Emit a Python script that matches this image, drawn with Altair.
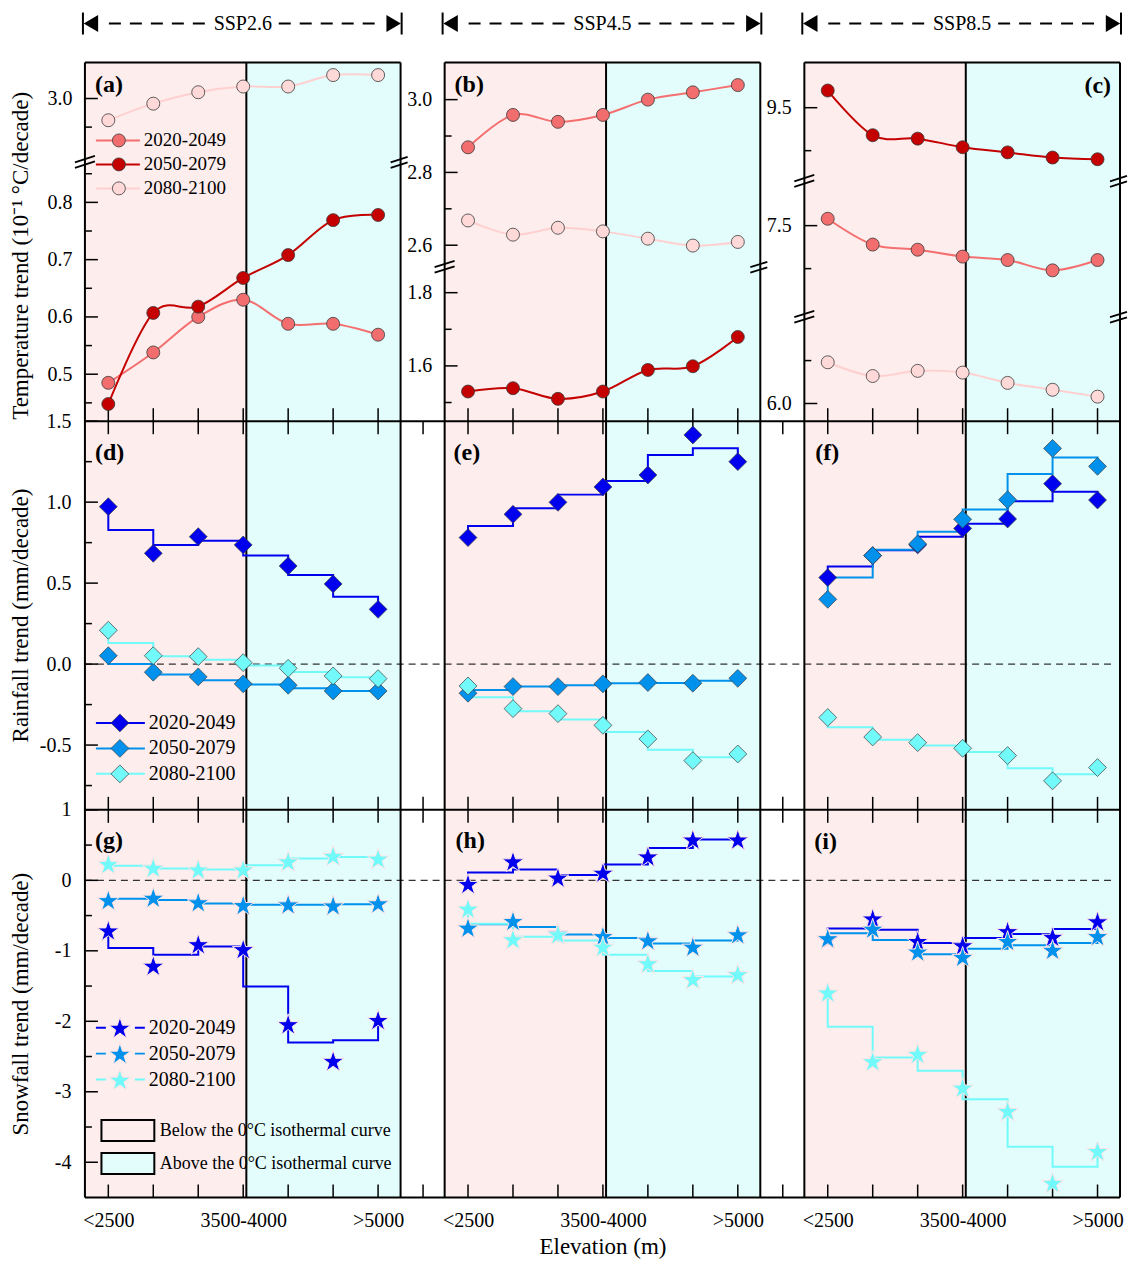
import math
import altair as alt
import pandas as pd

FONT = "Liberation Serif"

# ---------------- data ----------------
periods = ["2020-2049", "2050-2079", "2080-2100"]
scenarios = ["SSP2.6", "SSP4.5", "SSP8.5"]
elevation_bins = ["<2500", "2500-3000", "3000-3500", "3500-4000", "4000-4500", "4500-5000", ">5000"]
labelled_bins = [0, 3, 6]
zone_labels = ["Below the 0\u00b0C isothermal curve", "Above the 0\u00b0C isothermal curve"]
positions = list(range(len(elevation_bins)))

# Temperature trend (10^-1 degC/decade)
temp_ssp26_2020 = [0.485, 0.538, 0.600, 0.630, 0.588, 0.588, 0.569]
temp_ssp26_2050 = [0.448, 0.607, 0.618, 0.668, 0.708, 0.769, 0.778]
temp_ssp26_2080 = [2.962, 2.991, 3.011, 3.021, 3.021, 3.041, 3.041]
temp_ssp45_2020 = [2.869, 2.958, 2.939, 2.958, 3.000, 3.020, 3.040]
temp_ssp45_2050 = [1.530, 1.539, 1.510, 1.530, 1.589, 1.599, 1.679]
temp_ssp45_2080 = [2.668, 2.629, 2.648, 2.638, 2.618, 2.599, 2.609]
temp_ssp85_2020 = [7.54, 7.39, 7.36, 7.32, 7.30, 7.24, 7.30]
temp_ssp85_2050 = [9.60, 9.34, 9.32, 9.27, 9.24, 9.21, 9.20]
temp_ssp85_2080 = [6.24, 6.16, 6.19, 6.18, 6.12, 6.08, 6.04]

# Rainfall trend (mm/decade)
rain_ssp26_2020 = [0.972, 0.684, 0.787, 0.736, 0.606, 0.495, 0.338]
rain_ssp26_2050 = [0.052, -0.050, -0.079, -0.122, -0.131, -0.166, -0.166]
rain_ssp26_2080 = [0.209, 0.052, 0.046, 0.009, -0.026, -0.073, -0.090]
rain_ssp45_2020 = [0.781, 0.925, 0.999, 1.094, 1.168, 1.415, 1.250]
rain_ssp45_2050 = [-0.180, -0.139, -0.139, -0.122, -0.114, -0.118, -0.088]
rain_ssp45_2080 = [-0.135, -0.275, -0.306, -0.378, -0.462, -0.596, -0.555]
rain_ssp85_2020 = [0.534, 0.670, 0.736, 0.838, 0.896, 1.114, 1.013]
rain_ssp85_2050 = [0.400, 0.670, 0.742, 0.894, 1.015, 1.332, 1.221]
rain_ssp85_2080 = [-0.330, -0.450, -0.485, -0.520, -0.565, -0.721, -0.639]

# Snowfall trend (mm/decade)
snow_ssp26_2020 = [-0.71, -1.21, -0.905, -0.975, -2.04, -2.56, -1.98]
snow_ssp26_2050 = [-0.28, -0.245, -0.31, -0.35, -0.34, -0.355, -0.325]
snow_ssp26_2080 = [0.235, 0.18, 0.155, 0.155, 0.27, 0.35, 0.31]
snow_ssp45_2020 = [-0.05, 0.27, 0.04, 0.11, 0.34, 0.58, 0.58]
snow_ssp45_2050 = [-0.67, -0.575, -0.75, -0.79, -0.85, -0.94, -0.765]
snow_ssp45_2080 = [-0.40, -0.835, -0.765, -0.94, -1.175, -1.40, -1.33]
snow_ssp85_2020 = [-0.83, -0.54, -0.86, -0.92, -0.72, -0.80, -0.58]
snow_ssp85_2050 = [-0.82, -0.685, -1.01, -1.085, -0.86, -0.985, -0.79]
snow_ssp85_2080 = [-1.59, -2.565, -2.46, -2.94, -3.27, -4.29, -3.84]

temp_values = [[temp_ssp26_2020, temp_ssp26_2050, temp_ssp26_2080],
               [temp_ssp45_2020, temp_ssp45_2050, temp_ssp45_2080],
               [temp_ssp85_2020, temp_ssp85_2050, temp_ssp85_2080]]
rain_values = [[rain_ssp26_2020, rain_ssp26_2050, rain_ssp26_2080],
               [rain_ssp45_2020, rain_ssp45_2050, rain_ssp45_2080],
               [rain_ssp85_2020, rain_ssp85_2050, rain_ssp85_2080]]
snow_values = [[snow_ssp26_2020, snow_ssp26_2050, snow_ssp26_2080],
               [snow_ssp45_2020, snow_ssp45_2050, snow_ssp45_2080],
               [snow_ssp85_2020, snow_ssp85_2050, snow_ssp85_2080]]

# ---------------- styling / layout ----------------
temp_colors = ["#F26E6E", "#C40000", "#FFD8D8"]
temp_line_colors = ["#F46F6F", "#C40000", "#FFD0D0"]
prec_colors = ["#0000EE", "#0091EC", "#72FAFA"]
PINK = "#FDEDED"
CYAN = "#E3FDFD"

COL_STEP = 8                      # panel offset on the shared elevation axis
XDOM = [-0.52, 22.5]
PANEL_LO, PANEL_HI = -0.52, 6.5   # local extent of one panel
BOUNDARY = 3.07                   # 0 degC isothermal boundary (local units)
GAP_TICKS = [7, 15]
ZERO_END = 22.38
W_ALL = 1036
COL_PX = [0, 360, 720]
PANEL_W = 316
H1, H2, H3 = 359, 389, 388
R2 = H1
R3 = H1 + H2
H_ALL = R3 + H3
TICK, MINOR = 13, 7
XS = alt.Scale(domain=XDOM, nice=False, zero=False)

DIAMOND_SIZE = 320
STAR_SIZE = 520

TEMP_TITLE = "Temperature trend (10\u207b\u00b9 \u00b0C/decade)"
RAIN_TITLE = "Rainfall trend (mm/decade)"
SNOW_TITLE = "Snowfall trend (mm/decade)"

temp_segments = [
    [dict(domain=[2.890, 3.063], rng=[99, 0], major=[3.0], minor=[2.95], series=[2]),
     dict(domain=[0.418, 0.8715], rng=[359, 99], major=[0.5, 0.6, 0.7, 0.8],
          minor=[0.45, 0.55, 0.65, 0.75, 0.85], series=[0, 1])],
    [dict(domain=[2.542, 3.102], rng=[204, 0], major=[2.6, 2.8, 3.0], minor=[2.7, 2.9], series=[0, 2]),
     dict(domain=[1.449, 1.872], rng=[359, 204], major=[1.6, 1.8], minor=[1.5, 1.7], series=[1])],
    [dict(domain=[9.077, 9.763], rng=[118, 0], major=[9.5], minor=[9.25], series=[1]),
     dict(domain=[6.973, 7.763], rng=[254, 118], major=[7.5], minor=[7.25], series=[0]),
     dict(domain=[5.897, 6.508], rng=[359, 254], major=[6.0], minor=[6.25], series=[2])],
]
temp_breaks = [[99], [204], [118, 254]]

BREAK_L = "M-1,0.09L1,-0.55M-1,0.64L1,0"
BREAK_R = "M-1,0.09L0.7,-0.45M-1,0.64L0.7,0.1"
TRI_LEFT = "M-0.85,0L0.85,-1L0.85,1Z"
TRI_RIGHT = "M0.85,0L-0.85,-1L-0.85,1Z"
BOX_SHAPE = "M-1.26,-0.5L1.26,-0.5L1.26,0.5L-1.26,0.5Z"
_star_pts = []
for _k in range(10):
    _a = math.radians(-90 + 36 * _k)
    _r = 1.0 if _k % 2 == 0 else 0.382
    _star_pts.append((_r * math.cos(_a), _r * math.sin(_a) + 0.095))
STAR = "M" + "L".join("%.3f,%.3f" % p for p in _star_pts) + "Z"


def xq(field):
    return alt.X(field, scale=XS, axis=None)


def one(**kw):
    return pd.DataFrame({k: [v] for k, v in kw.items()}) if kw else pd.DataFrame({"k": [0]})


def label_expr(digits):
    return "(datum.value < 0 ? '-' : '') + format(abs(datum.value), '.%df')" % digits


def y_axis(values, digits, offset=0, title=None, title_y=None, pad=13):
    kw = dict(orient="left", values=values, ticks=False, tickSize=0, domain=False, grid=False,
              labelFont=FONT, labelFontSize=20, labelColor="black", labelPadding=pad,
              labelOverlap=False, labelExpr=label_expr(digits), offset=offset)
    if title:
        kw.update(title=title, titleFont=FONT, titleFontSize=23, titleFontWeight="normal",
                  titleColor="black", titleX=-64, titleY=title_y, titleAngle=-90,
                  titleAlign="center", titleBaseline="middle")
    else:
        kw.update(title=None)
    return alt.Axis(**kw)


def x_label_axis():
    vals = [COL_STEP * c + b for c in range(3) for b in labelled_bins]
    expr = "(datum.value %% %d) == %d ? '%s' : (datum.value %% %d) == %d ? '%s' : '%s'" % (
        COL_STEP, labelled_bins[0], elevation_bins[labelled_bins[0]],
        COL_STEP, labelled_bins[1], elevation_bins[labelled_bins[1]], elevation_bins[labelled_bins[2]])
    return alt.Axis(orient="bottom", values=vals, ticks=False, tickSize=0, domain=False, grid=False,
                    labelFont=FONT, labelFontSize=20, labelColor="black", labelPadding=13,
                    labelFlush=False, labelOverlap=False, labelExpr=expr,
                    title="Elevation (m)", titleFont=FONT, titleFontSize=23, titleFontWeight="normal",
                    titleColor="black", titlePadding=5)


layers = []

# ---- shaded zones, one pair per scenario column ----
shade = pd.DataFrame({
    "x0": [COL_STEP * c + lo for c in range(3) for lo in (PANEL_LO, BOUNDARY)],
    "x1": [COL_STEP * c + hi for c in range(3) for hi in (BOUNDARY, PANEL_HI)],
    "fill": [PINK, CYAN] * 3})
layers.append(alt.Chart(shade).mark_rect().encode(
    x=xq("x0:Q"), x2="x1:Q", y=alt.value(0), y2=alt.value(H_ALL), fill=alt.Fill("fill:N", scale=None)))

# ---- zero lines (rows 2 and 3) ----
rain_scale = alt.Scale(domain=[-0.9, 1.5], range=[R3, R2], nice=False, zero=False)
snow_scale = alt.Scale(domain=[-4.5, 1.0], range=[H_ALL, R3], nice=False, zero=False)
for sc in (rain_scale, snow_scale):
    layers.append(alt.Chart(one(x0=XDOM[0], x1=ZERO_END, y=0.0)).mark_rule(
        strokeDash=[7, 5], color="#333333", strokeWidth=1.2).encode(
        x=xq("x0:Q"), x2="x1:Q", y=alt.Y("y:Q", scale=sc, axis=None)))

# ---- dividers (0 degC isothermal boundary) ----
layers.append(alt.Chart(pd.DataFrame({"x": [COL_STEP * c + BOUNDARY for c in range(3)]})).mark_rule(
    color="black", strokeWidth=2).encode(x=xq("x:Q"), y=alt.value(0), y2=alt.value(H_ALL)))

# ---- frames ----
edges = pd.DataFrame({"x": [COL_STEP * c + e for c in range(3) for e in (PANEL_LO, PANEL_HI)]})
layers.append(alt.Chart(edges).mark_rule(color="black", strokeWidth=2).encode(
    x=xq("x:Q"), y=alt.value(0), y2=alt.value(H_ALL)))
tops = pd.DataFrame({"x0": [COL_STEP * c + PANEL_LO for c in range(3)],
                     "x1": [COL_STEP * c + PANEL_HI for c in range(3)]})
layers.append(alt.Chart(tops).mark_rule(color="black", strokeWidth=2).encode(
    x=xq("x0:Q"), x2="x1:Q", y=alt.value(0)))
for yy in (R2, R3, H_ALL):
    layers.append(alt.Chart(one(x0=XDOM[0], x1=XDOM[1])).mark_rule(color="black", strokeWidth=2).encode(
        x=xq("x0:Q"), x2="x1:Q", y=alt.value(yy)))

# ---- x ticks (inward) ----
panel_pos = [COL_STEP * c + p for c in range(3) for p in positions]
all_pos = sorted(panel_pos + GAP_TICKS)
tick_specs = [(panel_pos, R2 - TICK, R2, None), (all_pos, R2, R2 + TICK, None),
              (all_pos, R3 - TICK, R3, None), (all_pos, R3, R3 + TICK, None),
              (all_pos, H_ALL - TICK, H_ALL, x_label_axis())]
for pos, y0, y1, ax in tick_specs:
    layers.append(alt.Chart(pd.DataFrame({"pos": pos})).mark_rule(color="black", strokeWidth=1.5).encode(
        x=alt.X("pos:Q", scale=XS, axis=ax), y=alt.value(y0), y2=alt.value(y1)))

# ---- temperature panels (broken y axes) ----
for c in range(3):
    for si, seg in enumerate(temp_segments[c]):
        ys = alt.Scale(domain=seg["domain"], range=seg["rng"], nice=False, zero=False)
        title = TEMP_TITLE if (c == 0 and si == 0) else None
        ax = y_axis(seg["major"], 1, -COL_PX[c], title, 193, 13)
        layers.append(alt.Chart(pd.DataFrame({"v": seg["major"]})).mark_rule(color="black", strokeWidth=1.5).encode(
            y=alt.Y("v:Q", scale=ys, axis=ax), x=alt.value(COL_PX[c]), x2=alt.value(COL_PX[c] + TICK)))
        layers.append(alt.Chart(pd.DataFrame({"v": seg["minor"]})).mark_rule(color="black", strokeWidth=1.5).encode(
            y=alt.Y("v:Q", scale=ys, axis=None), x=alt.value(COL_PX[c]), x2=alt.value(COL_PX[c] + MINOR)))
        rows = []
        for k in seg["series"]:
            for i, v in enumerate(temp_values[c][k]):
                rows.append(dict(gpos=COL_STEP * c + i, value=v, sid=periods[k],
                                 lc=temp_line_colors[k], fc=temp_colors[k]))
        df = pd.DataFrame(rows)
        layers.append(alt.Chart(df).mark_line(strokeWidth=2, interpolate="cardinal").encode(
            x=xq("gpos:Q"), y=alt.Y("value:Q", scale=ys, axis=None), detail="sid:N",
            color=alt.Color("lc:N", scale=None)))
        layers.append(alt.Chart(df).mark_point(shape="circle", filled=True, size=169, stroke="#3a3a3a",
                                               strokeWidth=0.8, opacity=1).encode(
            x=xq("gpos:Q"), y=alt.Y("value:Q", scale=ys, axis=None), fill=alt.Fill("fc:N", scale=None)))
    for yp in temp_breaks[c]:
        for xp, shp in ((COL_PX[c], BREAK_L), (COL_PX[c] + PANEL_W, BREAK_R)):
            layers.append(alt.Chart(one()).mark_point(shape=shp, filled=False, color="black",
                                                      strokeWidth=1.8, size=400, opacity=1).encode(
                x=alt.value(xp), y=alt.value(yp)))


# ---- rainfall / snowfall rows (stepped lines) ----
def step_frame(vals):
    n = len(vals)
    pos, val = [0], [vals[0]]
    for i in range(n - 1):
        m = (vals[i] + vals[i + 1]) / 2
        pos += [i, i + 1]
        val += [m, m]
    pos.append(n - 1)
    val.append(vals[-1])
    return pos, val


def prec_layers(values, sc, shape, size, stroke, sw):
    pts, lines = [], []
    for c in range(3):
        for s in range(3):
            vals = values[c][s]
            for i, v in enumerate(vals):
                pts.append(dict(gpos=COL_STEP * c + i, value=v, fc=prec_colors[s]))
            sp, sv = step_frame(vals)
            for j, (p, v) in enumerate(zip(sp, sv)):
                lines.append(dict(gpos=COL_STEP * c + p, value=v, k=j, sid="%d-%d" % (c, s), lc=prec_colors[s]))
    ldf, pdf = pd.DataFrame(lines), pd.DataFrame(pts)
    return [
        alt.Chart(ldf).mark_line(strokeWidth=2).encode(
            x=xq("gpos:Q"), y=alt.Y("value:Q", scale=sc, axis=None), detail="sid:N",
            order=alt.Order("k:Q"), color=alt.Color("lc:N", scale=None)),
        alt.Chart(pdf).mark_point(shape=shape, filled=True, size=size, stroke=stroke, strokeWidth=sw,
                                  opacity=1).encode(
            x=xq("gpos:Q"), y=alt.Y("value:Q", scale=sc, axis=None), fill=alt.Fill("fc:N", scale=None)),
    ]


def row_yticks(sc, major, minor, digits, title, title_y):
    return [
        alt.Chart(pd.DataFrame({"v": major})).mark_rule(color="black", strokeWidth=1.5).encode(
            y=alt.Y("v:Q", scale=sc, axis=y_axis(major, digits, 0, title, title_y, 14)),
            x=alt.value(0), x2=alt.value(TICK)),
        alt.Chart(pd.DataFrame({"v": minor})).mark_rule(color="black", strokeWidth=1.5).encode(
            y=alt.Y("v:Q", scale=sc, axis=None), x=alt.value(0), x2=alt.value(MINOR)),
    ]


layers += row_yticks(rain_scale, [1.5, 1.0, 0.5, 0.0, -0.5], [1.25, 0.75, 0.25, -0.25, -0.75], 1,
                     RAIN_TITLE, R2 + 194)
layers += row_yticks(snow_scale, [1, 0, -1, -2, -3, -4], [0.5, -0.5, -1.5, -2.5, -3.5], 0,
                     SNOW_TITLE, R3 + 194)
layers += prec_layers(rain_values, rain_scale, "diamond", DIAMOND_SIZE, "#3c3c3c", 0.7)
layers += prec_layers(snow_values, snow_scale, STAR, STAR_SIZE, "#FFE4E4", 1.0)


# ---- legends ----
def legend_layers(colors, line_colors, shape, size, stroke, sw, y_range, x_line, x_sym, x_text,
                  dash=None, font_size=20):
    df = pd.DataFrame({"period": periods, "idx": [0, 1, 2], "c": colors, "lc": line_colors})
    y = alt.Y("idx:Q", scale=alt.Scale(domain=[0, 2], range=y_range, nice=False, zero=False), axis=None)
    rule_kw = dict(strokeWidth=2)
    if dash:
        rule_kw["strokeDash"] = dash
    return [
        alt.Chart(df).mark_rule(**rule_kw).encode(
            x=alt.value(x_line[0]), x2=alt.value(x_line[1]), y=y, color=alt.Color("lc:N", scale=None)),
        alt.Chart(df).mark_point(shape=shape, filled=True, size=size, stroke=stroke, strokeWidth=sw,
                                 opacity=1).encode(x=alt.value(x_sym), y=y, fill=alt.Fill("c:N", scale=None)),
        alt.Chart(df).mark_text(align="left", baseline="middle", font=FONT, fontSize=font_size,
                                color="black").encode(x=alt.value(x_text), y=y, text="period:N"),
    ]


layers += legend_layers(temp_colors, temp_line_colors, "circle", 169, "#3a3a3a", 0.8,
                        [78, 126], [11, 55], 34, 59, font_size=19)
layers += legend_layers(prec_colors, prec_colors, "diamond", DIAMOND_SIZE, "#3c3c3c", 0.7,
                        [R2 + 302, R2 + 353], [11, 60], 35, 64)
layers += legend_layers(prec_colors, prec_colors, STAR, STAR_SIZE, "#FFE4E4", 1.0,
                        [R3 + 218, R3 + 270], [11, 60], 35, 64, dash=[10, 29])

zdf = pd.DataFrame({"zone": zone_labels, "idx": [0, 1], "fill": [PINK, CYAN]})
zy = alt.Y("idx:Q", scale=alt.Scale(domain=[0, 1], range=[R3 + 321, R3 + 354], nice=False, zero=False), axis=None)
layers.append(alt.Chart(zdf).mark_point(shape=BOX_SHAPE, filled=True, size=1764, stroke="black",
                                        strokeWidth=2, opacity=1).encode(
    x=alt.value(43), y=zy, fill=alt.Fill("fill:N", scale=None)))
layers.append(alt.Chart(zdf).mark_text(align="left", baseline="middle", font=FONT, fontSize=18,
                                       color="black").encode(x=alt.value(75), y=zy, text="zone:N"))


# ---- panel letters ----
def text_layer(txt, x, y, align="left", size=24, bold=True):
    return alt.Chart(one(t=txt)).mark_text(font=FONT, fontSize=size, fontWeight="bold" if bold else "normal",
                                           align=align, baseline="middle", color="black").encode(
        text="t:N", x=alt.value(x), y=alt.value(y))


letter_specs = [("(a)", 10, 23, "left"), ("(b)", 370, 23, "left"), ("(c)", 1027, 24, "right"),
                ("(d)", 10, R2 + 32, "left"), ("(e)", 369, R2 + 32, "left"), ("(f)", 731, R2 + 32, "left"),
                ("(g)", 10, R3 + 31, "left"), ("(h)", 371, R3 + 31, "left"), ("(i)", 730, R3 + 32, "left")]
for t, x, y, a in letter_specs:
    layers.append(text_layer(t, x, y, a))

# ---- scenario headers ----
for c in range(3):
    ox = COL_PX[c]
    hdf = one(name=scenarios[c])
    layers += [
        alt.Chart(hdf).mark_text(font=FONT, fontSize=20, align="center", baseline="middle", color="black").encode(
            text="name:N", x=alt.value(ox + PANEL_W / 2), y=alt.value(-39)),
        alt.Chart(hdf).mark_rule(strokeDash=[12, 9], strokeWidth=2, color="black").encode(
            x=alt.value(ox + 24), x2=alt.value(ox + 122), y=alt.value(-39)),
        alt.Chart(hdf).mark_rule(strokeDash=[12, 9], strokeWidth=2, color="black").encode(
            x=alt.value(ox + PANEL_W - 122), x2=alt.value(ox + PANEL_W - 23), y=alt.value(-39)),
        alt.Chart(hdf).mark_rule(strokeWidth=2, color="black").encode(
            x=alt.value(ox - 2), y=alt.value(-50), y2=alt.value(-28)),
        alt.Chart(hdf).mark_rule(strokeWidth=2, color="black").encode(
            x=alt.value(ox + PANEL_W + 1), y=alt.value(-50), y2=alt.value(-28)),
        alt.Chart(hdf).mark_point(shape=TRI_LEFT, filled=True, color="black", size=289, opacity=1).encode(
            x=alt.value(ox + 6), y=alt.value(-39)),
        alt.Chart(hdf).mark_point(shape=TRI_RIGHT, filled=True, color="black", size=289, opacity=1).encode(
            x=alt.value(ox + PANEL_W - 7), y=alt.value(-39)),
    ]

chart = alt.layer(*layers).resolve_scale(x="independent", y="independent").properties(
    width=W_ALL, height=H_ALL, padding={"left": 10, "top": 11, "right": 0, "bottom": 0}
).configure_view(strokeWidth=0, stroke="transparent")

chart.save("out.html", embed_options={"renderer": "svg", "actions": False})
